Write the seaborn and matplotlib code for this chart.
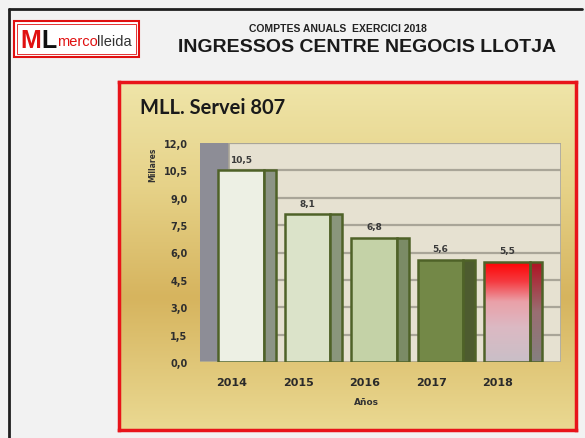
import numpy as np
import pandas as pd
import seaborn as sns
import matplotlib.pyplot as plt
from matplotlib.patches import Rectangle
from matplotlib.lines import Line2D
from matplotlib.colors import LinearSegmentedColormap

# data
years = [2014, 2015, 2016, 2017, 2018]
values = [10.5, 8.1, 6.8, 5.6, 5.5]
yticks = [0.0, 1.5, 3.0, 4.5, 6.0, 7.5, 9.0, 10.5, 12.0]
front_colors = ['#eef2e2', '#dde8c4', '#c6d9a0', '#77933c', '#ff0000']
side_colors = ['#8c9682', '#8a9a78', '#7c9160', '#4f6228', '#a01020']

W, H = 585, 439


def fx(x):
    return x / W


def fy(y):
    return 1 - y / H


def coma(v):
    return f"{v:.1f}".replace('.', ',')


sns.set_style("white")
fig = plt.figure(figsize=(5.85, 4.39), dpi=100, facecolor='#f2f2f2')

# outer black frame (top and left)
fig.add_artist(Line2D([fx(9), fx(582)], [fy(10), fy(10)], color='#202020', lw=2))
fig.add_artist(Line2D([fx(9), fx(9)], [fy(10), fy(439)], color='#202020', lw=2))

# logo
arial = 'Liberation Sans'
fig.add_artist(Rectangle((fx(14), fy(58)), 125 / W, 36 / H, transform=fig.transFigure,
                         facecolor='white', edgecolor='#e01010', lw=1.5))
fig.add_artist(Rectangle((fx(17), fy(55)), 119 / W, 30 / H, transform=fig.transFigure,
                         facecolor='none', edgecolor='#e01010', lw=0.6))
fig.text(fx(20), fy(41), 'M', color='#e01010', fontfamily=arial, weight='bold', fontsize=18,
         ha='left', va='center')
fig.text(fx(41), fy(41), 'L', color='#111111', fontfamily=arial, weight='bold', fontsize=18,
         ha='left', va='center')
fig.text(fx(57), fy(42), 'merco', color='#e01010', fontfamily=arial, fontsize=10.5,
         ha='left', va='center')
fig.text(fx(97.5), fy(42), 'lleida', color='#333333', fontfamily=arial, fontsize=10.5,
         ha='left', va='center')

# header
fig.text(fx(338), fy(29), 'COMPTES ANUALS  EXERCICI 2018', fontfamily=arial, weight='bold',
         fontsize=7.5, color='#222222', ha='center', va='center')
fig.text(fx(367), fy(48), 'INGRESSOS CENTRE NEGOCIS LLOTJA', fontfamily=arial, weight='bold',
         fontsize=14, color='#1a1a1a', ha='center', va='center')

# chart panel with golden gradient
bg = fig.add_axes([fx(119), fy(431), (576 - 119) / W, (431 - 83) / H])
gold = LinearSegmentedColormap.from_list('gold', [(0, '#ead992'), (0.38, '#d6b45e'),
                                                  (0.7, '#e6d288'), (1, '#efe5a9')])
bg.imshow(np.linspace(0, 1, 256).reshape(-1, 1), cmap=gold, aspect='auto',
          extent=[0, 1, 0, 1], origin='lower')
bg.set_xticks([])
bg.set_yticks([])
for s in bg.spines.values():
    s.set_color('#e8141a')
    s.set_linewidth(2.5)
fig.text(fx(140), fy(108), 'MLL. Servei 807', fontfamily='Lato', weight='bold', fontsize=14.5,
         color='#1a1a1a', ha='left', va='center')

# plot area
ax = fig.add_axes([fx(200), fy(363), 361 / W, 219 / H])
ax.patch.set_alpha(0)
x_left, x_wall, x_right = 2013.519, 2013.955, 2018.947
ax.axvspan(x_left, x_wall, facecolor='#8d8d96', edgecolor='none', zorder=0)
ax.add_patch(Rectangle((x_wall, 0), x_right - x_wall, 12, facecolor='#e6e1d1',
                       edgecolor='#a9a598', lw=1.2, zorder=0))
ax.hlines(yticks[1:], x_wall, x_right, color='#a9a598', lw=1.6, zorder=0.5)
ax.axhline(0, color='#b8b090', lw=1.2, zorder=0.6)

df = pd.DataFrame({
    'Any': [str(y) for y in years],
    'Millares': values,
    'front': [y + 0.135 for y in years],
    'side': [y + 0.57 for y in years],
})

n0 = len(ax.patches)
sns.barplot(data=df, x='front', y='Millares', hue='Any', palette=front_colors, native_scale=True,
            dodge=False, width=0.69, errorbar=None, legend=False, orient='x',
            edgecolor='#4f6228', linewidth=1.8, ax=ax, zorder=2)
front_patches = ax.patches[n0:]
n1 = len(ax.patches)
sns.barplot(data=df, x='side', y='Millares', hue='Any', palette=side_colors, native_scale=True,
            dodge=False, width=0.18, errorbar=None, legend=False, orient='x',
            edgecolor='#4f6228', linewidth=1.8, ax=ax, zorder=2)
side_patches = ax.patches[n1:]

# red gradient on the 2018 bar
red_front = LinearSegmentedColormap.from_list('rf', [(0, '#c9bfc7'), (0.35, '#dcb9c3'),
                                                     (0.6, '#eaa0a8'), (0.8, '#f53a40'),
                                                     (1, '#ff0000')])
red_side = LinearSegmentedColormap.from_list('rs', [(0, '#858080'), (0.5, '#9a6e72'),
                                                    (1, '#b01020')])
grad = np.linspace(0, 1, 256).reshape(-1, 1)
for p, cm in [(front_patches[-1], red_front), (side_patches[-1], red_side)]:
    x0 = p.get_x()
    x1 = x0 + p.get_width()
    im = ax.imshow(grad, cmap=cm, aspect='auto', origin='lower',
                   extent=[x0, x1, 0, p.get_height()], zorder=2.1)
    im.set_clip_path(p)
    p.set_facecolor('none')
    p.set_zorder(2.2)

for y, v in zip(years, values):
    ax.annotate(coma(v), (y + 0.135, v), xytext=(0, 8), textcoords='offset points',
                ha='center', va='center', fontsize=6.5, weight='bold', color='#3a3a3a')

ax.set_xlim(x_left, x_right)
ax.set_ylim(0, 12)
ax.set_yticks(yticks, [coma(t) for t in yticks])
ax.set_xticks(years, [str(y) for y in years])
ax.tick_params(axis='y', length=0, pad=9, labelsize=7, labelcolor='#2e2e2e')
ax.tick_params(axis='x', length=0, pad=11, labelsize=8, labelcolor='#2a2a2a')
for lab in ax.get_xticklabels() + ax.get_yticklabels():
    lab.set_fontweight('bold')
for s in ax.spines.values():
    s.set_visible(False)

ax.set_xlabel('Años', fontsize=6.5, weight='bold', color='#333333')
ax.xaxis.set_label_coords((366 - 200) / 361, (363 - 398) / 219)
ax.set_ylabel('Millares', fontsize=5.5, weight='bold', color='#333333')
ax.yaxis.set_label_coords((153 - 200) / 361, (363 - 165) / 219)
ax.yaxis.label.set_va('center')

fig.savefig('out.png', dpi=100, facecolor=fig.get_facecolor())
